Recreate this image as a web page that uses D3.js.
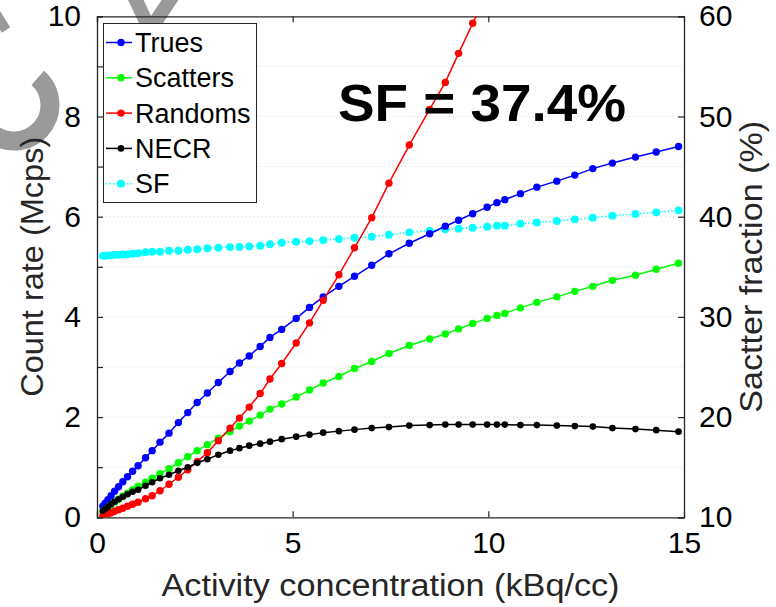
<!DOCTYPE html>
<html>
<head>
<meta charset="utf-8">
<script src="https://cdn.jsdelivr.net/npm/d3@7"></script>
<style>
body { margin: 0; background: #fff; }
text { font-family: "Liberation Sans", Arial, sans-serif; }
</style>
</head>
<body>
<div id="chart"></div>
<script>
// activity concentration (kBq/cc)
let activity = [0.15, 0.21, 0.28, 0.36, 0.45, 0.55, 0.66, 0.78, 0.91, 1.05,
    1.24, 1.41, 1.61, 1.84, 2.08, 2.32, 2.56, 2.82, 3.10, 3.40,
    3.64, 3.89, 4.17, 4.42, 4.72, 5.09, 5.43, 5.78, 6.18, 6.58,
    7.02, 7.46, 7.98, 8.50, 8.90, 9.24, 9.60, 9.97, 10.22, 10.42,
    10.82, 11.24, 11.75, 12.21, 12.67, 13.17, 13.76, 14.29, 14.86];

// count rates (Mcps)
let trues = [0.22, 0.28, 0.35, 0.43, 0.52, 0.61, 0.71, 0.81, 0.92, 1.03,
    1.19, 1.33, 1.50, 1.68, 1.89, 2.09, 2.29, 2.48, 2.69, 2.91,
    3.08, 3.22, 3.41, 3.59, 3.75, 3.97, 4.19, 4.40, 4.61, 4.81,
    5.03, 5.26, 5.47, 5.66, 5.81, 5.93, 6.06, 6.19, 6.28, 6.34,
    6.46, 6.59, 6.71, 6.83, 6.96, 7.07, 7.19, 7.29, 7.40];
let scatters = [0.12, 0.16, 0.20, 0.25, 0.30, 0.36, 0.42, 0.48, 0.55, 0.62,
    0.70, 0.78, 0.87, 0.97, 1.09, 1.21, 1.33, 1.45, 1.58, 1.71,
    1.82, 1.92, 2.04, 2.16, 2.26, 2.40, 2.54, 2.68, 2.81, 2.97,
    3.11, 3.27, 3.43, 3.56, 3.66, 3.76, 3.87, 3.97, 4.03, 4.07,
    4.18, 4.29, 4.40, 4.51, 4.61, 4.73, 4.83, 4.95, 5.07];
let randoms = [0.03, 0.05, 0.07, 0.09, 0.12, 0.15, 0.18, 0.22, 0.26, 0.30,
    0.37, 0.43, 0.53, 0.66, 0.80, 0.95, 1.11, 1.29, 1.53, 1.78,
    1.98, 2.20, 2.47, 2.76, 3.07, 3.48, 3.88, 4.33, 4.84, 5.38,
    5.98, 6.67, 7.43, 8.14, 8.68, 9.26, 9.86, 10.46];
let necr = [0.13, 0.17, 0.21, 0.26, 0.31, 0.36, 0.41, 0.46, 0.51, 0.55,
    0.63, 0.70, 0.78, 0.85, 0.93, 1.00, 1.09, 1.16, 1.25, 1.33,
    1.38, 1.43, 1.47, 1.51, 1.56, 1.61, 1.65, 1.69, 1.72, 1.75,
    1.78, 1.80, 1.83, 1.84, 1.85, 1.85, 1.85, 1.85, 1.85, 1.85,
    1.84, 1.84, 1.83, 1.82, 1.81, 1.78, 1.76, 1.74, 1.71];

// scatter fraction (%), right axis
let sf = [36.10, 36.10, 36.15, 36.15, 36.20, 36.20, 36.25, 36.25, 36.30, 36.35,
    36.45, 36.50, 36.50, 36.60, 36.60, 36.70, 36.75, 36.85, 36.90, 36.97,
    36.98, 37.03, 37.10, 37.25, 37.40, 37.50, 37.57, 37.67, 37.77, 37.90,
    38.00, 38.20, 38.44, 38.60, 38.74, 38.80, 38.90, 39.00, 39.10, 39.10,
    39.30, 39.42, 39.57, 39.74, 39.90, 40.10, 40.27, 40.44, 40.64];

let xTicks = [0, 5, 10, 15];
let leftTicks = [0, 2, 4, 6, 8, 10];
let rightTicks = [10, 20, 30, 40, 50, 60];
let seriesNames = ["Trues", "Scatters", "Randoms", "NECR", "SF"];

let W = 776, H = 607;
let x0 = 97, x1 = 684, y0 = 517.3, y1 = 16.3;
let axisColor = "#262626";

let svg = d3.select("#chart")
    .append("svg")
    .attr("width", W)
    .attr("height", H);

// grey watermark fragment in the corner
let wm = svg.append("g")
    .attr("fill", "none")
    .attr("stroke", "#9a9a9a")
    .attr("stroke-width", 19);
wm.append("path")
    .attr("d", d3.arc()({innerRadius: 36, outerRadius: 36, startAngle: 0.72, endAngle: 3.9}))
    .attr("transform", "translate(14,105)");
wm.append("path")
    .attr("d", "M133,-6 L150,30 L174,-6")
    .attr("stroke-width", 14);
wm.append("path")
    .attr("d", "M-4,14 L6,30")
    .attr("stroke-width", 10);

let xScale = d3.scaleLinear().domain([0, 15]).range([x0, x1]);
let yScale = d3.scaleLinear().domain([0, 10]).range([y0, y1]);
let y2Scale = d3.scaleLinear().domain([10, 60]).range([y0, y1]);

svg.append("clipPath")
    .attr("id", "plotClip")
    .append("rect")
    .attr("x", x0)
    .attr("y", y1)
    .attr("width", x1 - x0)
    .attr("height", y0 - y1);

// dotted horizontal grid
svg.append("g")
    .selectAll("line")
    .data(d3.range(1, 10))
    .enter()
    .append("line")
    .attr("x1", x0)
    .attr("x2", x1)
    .attr("y1", d => yScale(d))
    .attr("y2", d => yScale(d))
    .attr("stroke", "#d9d9d9")
    .attr("stroke-width", 1)
    .style("stroke-dasharray", "1,3");

// axes
let tickFont = 30;
let bottomAxis = d3.axisBottom(xScale).tickValues(xTicks).tickSize(-6).tickPadding(14);
let topAxis = d3.axisTop(xScale).tickValues(xTicks).tickSize(-6).tickFormat("");
let leftAxis = d3.axisLeft(yScale).tickValues(d3.range(0, 11)).tickSize(-6).tickPadding(16)
    .tickFormat(d => leftTicks.includes(d) ? d : "");
let rightAxis = d3.axisRight(y2Scale).tickValues(rightTicks).tickSize(-6).tickPadding(15);

function styleAxis(g) {
    g.select(".domain").attr("stroke", axisColor).attr("stroke-width", 1.3);
    g.selectAll(".tick line").attr("stroke", axisColor).attr("stroke-width", 1.2);
    g.selectAll("text")
        .attr("fill", "#000")
        .style("font-size", tickFont + "px")
        .style("font-family", "'Liberation Sans', Arial, sans-serif");
}

svg.append("g").attr("transform", "translate(0," + y0 + ")").call(bottomAxis).call(styleAxis);
svg.append("g").attr("transform", "translate(0," + y1 + ")").call(topAxis).call(styleAxis);
svg.append("g").attr("transform", "translate(" + x0 + ",0)").call(leftAxis).call(styleAxis);
svg.append("g").attr("transform", "translate(" + x1 + ",0)").call(rightAxis).call(styleAxis);
svg.selectAll(".domain").attr("d", function() { return d3.select(this).attr("d").replace(/[Vv]-?6/g, ""); });

// axis titles
svg.append("text")
    .text("Activity concentration (kBq/cc)")
    .attr("x", (x0 + x1) / 2)
    .attr("y", 596)
    .attr("text-anchor", "middle")
    .attr("textLength", 458)
    .attr("lengthAdjust", "spacingAndGlyphs")
    .attr("fill", axisColor)
    .style("font-size", "31px");

svg.append("text")
    .text("Count rate (Mcps)")
    .attr("transform", "translate(43," + (y0 + y1) / 2 + ") rotate(-90)")
    .attr("text-anchor", "middle")
    .attr("textLength", 260)
    .attr("lengthAdjust", "spacingAndGlyphs")
    .attr("fill", axisColor)
    .style("font-size", "31px");

svg.append("text")
    .text("Sactter fraction (%)")
    .attr("transform", "translate(762," + (y0 + y1) / 2 + ") rotate(-90)")
    .attr("text-anchor", "middle")
    .attr("textLength", 292)
    .attr("lengthAdjust", "spacingAndGlyphs")
    .attr("fill", axisColor)
    .style("font-size", "31px");

// series
let series = [
    {name: "Trues", values: trues, color: "#0000ff", scale: yScale, r: 3.7, dash: null},
    {name: "Scatters", values: scatters, color: "#00ff00", scale: yScale, r: 3.7, dash: null},
    {name: "Randoms", values: randoms, color: "#ff0000", scale: yScale, r: 3.7, dash: null},
    {name: "NECR", values: necr, color: "#000000", scale: yScale, r: 3.3, dash: null},
    {name: "SF", values: sf, color: "#00ffff", scale: y2Scale, r: 3.9, dash: "1.5,2"}
];

let plot = svg.append("g").attr("clip-path", "url(#plotClip)");

// SF first so the count-rate curves sit on top
[4, 0, 1, 2, 3].forEach(function(k) {
    let s = series[k];
    let pts = s.values.map((v, i) => [activity[i], v]);
    let line = d3.line()
        .x(d => xScale(d[0]))
        .y(d => s.scale(d[1]));

    plot.append("path")
        .datum(pts)
        .attr("d", line)
        .attr("fill", "none")
        .attr("stroke", s.color)
        .attr("stroke-width", 1.5)
        .style("stroke-dasharray", s.dash);

    plot.selectAll("circle.s" + k)
        .data(pts)
        .enter()
        .append("circle")
        .attr("class", "s" + k)
        .attr("cx", d => xScale(d[0]))
        .attr("cy", d => s.scale(d[1]))
        .attr("r", s.r)
        .attr("fill", s.color);
});

// legend
let legend = svg.append("g");
legend.append("rect")
    .attr("x", 103.5)
    .attr("y", 23.5)
    .attr("width", 153)
    .attr("height", 179)
    .attr("fill", "#fff")
    .attr("stroke", axisColor)
    .attr("stroke-width", 1);

series.forEach(function(s, i) {
    let ly = 42.5 + i * 35.3;
    legend.append("line")
        .attr("x1", 106)
        .attr("x2", 132)
        .attr("y1", ly)
        .attr("y2", ly)
        .attr("stroke", s.color)
        .attr("stroke-width", 1.5)
        .style("stroke-dasharray", s.dash);
    legend.append("circle")
        .attr("cx", 121)
        .attr("cy", ly)
        .attr("r", s.r)
        .attr("fill", s.color);
    legend.append("text")
        .text(seriesNames[i])
        .attr("x", 135)
        .attr("y", ly + 9.5)
        .attr("fill", "#000")
        .style("font-size", "27px");
});

// annotation
svg.append("text")
    .text("SF = 37.4%")
    .attr("x", 338)
    .attr("y", 121)
    .attr("textLength", 288)
    .attr("lengthAdjust", "spacingAndGlyphs")
    .attr("fill", "#000")
    .style("font-size", "52px")
    .style("font-weight", "bold");
</script>
</body>
</html>
